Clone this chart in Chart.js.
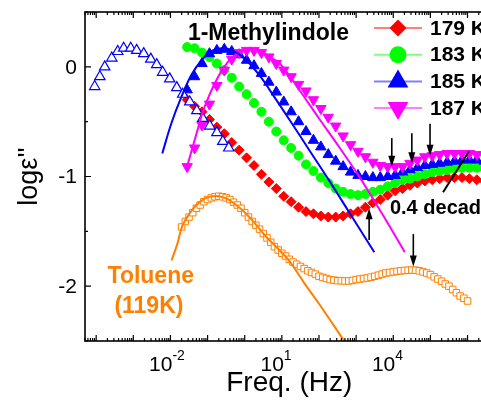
<!DOCTYPE html>
<html>
<head>
<meta charset="utf-8">
<script src="https://cdn.jsdelivr.net/npm/chart.js@4.4.0/dist/chart.umd.min.js"></script>
<style>
  html, body { margin: 0; padding: 0; background: #fff; overflow: hidden; }
  #wrap { width: 520px; height: 404px; }
</style>
</head>
<body>
<div id="wrap"><canvas id="dielChart" width="520" height="404"></canvas></div>
<script>
'use strict';

// ===== DATA: x = log10(f / Hz), y = log10(eps'') =====
// 1-Methylindole, common frequency grid
const freqMI = [-1.55, -1.35, -1.15, -0.95, -0.75, -0.55, -0.35, -0.15, 0.05, 0.25, 0.45, 0.65, 0.85, 1.05,
    1.25, 1.45, 1.65, 1.85, 2.05, 2.25, 2.45, 2.65, 2.85, 3.05, 3.25, 3.45, 3.65, 3.85, 4.05, 4.25, 4.45,
    4.65, 4.85, 5.05, 5.25, 5.45, 5.65, 5.85, 6.05, 6.25, 6.45];
const eps179 = [-0.30, -0.36, -0.41, -0.48, -0.55, -0.61, -0.69, -0.76, -0.83, -0.90, -0.98, -1.05, -1.11, -1.18,
    -1.23, -1.28, -1.32, -1.34, -1.36, -1.37, -1.37, -1.36, -1.34, -1.32, -1.28, -1.24, -1.21, -1.17, -1.13, -1.11, -1.08,
    -1.06, -1.04, -1.03, -1.02, -1.01, -1.01, -1.01, -1.02, -1.03, -1.04];
const eps183 = [0.18, 0.17, 0.13, 0.09, 0.03, -0.03, -0.10, -0.18, -0.25, -0.33, -0.41, -0.50, -0.59, -0.67,
    -0.74, -0.81, -0.89, -0.95, -1.01, -1.06, -1.11, -1.14, -1.16, -1.17, -1.16, -1.14, -1.12, -1.09, -1.06, -1.03, -1.02,
    -1.00, -0.98, -0.96, -0.95, -0.94, -0.93, -0.92, -0.92, -0.92, -0.92];
const eps185 = [-0.21, -0.09, 0.03, 0.12, 0.15, 0.16, 0.14, 0.11, 0.06, 0.01, -0.06, -0.14, -0.23, -0.32,
    -0.41, -0.50, -0.59, -0.67, -0.73, -0.80, -0.86, -0.91, -0.96, -0.99, -1.00, -1.01, -1.01, -1.00, -0.99, -0.96, -0.94,
    -0.92, -0.90, -0.89, -0.88, -0.87, -0.86, -0.85, -0.85, -0.85, -0.86];
const eps187 = [-0.91, -0.74, -0.53, -0.34, -0.17, -0.03, 0.07, 0.13, 0.15, 0.15, 0.13, 0.09, 0.03, -0.03,
    -0.09, -0.16, -0.22, -0.30, -0.38, -0.46, -0.54, -0.63, -0.71, -0.77, -0.82, -0.87, -0.90, -0.91, -0.91, -0.91, -0.88,
    -0.85, -0.82, -0.81, -0.80, -0.79, -0.79, -0.79, -0.79, -0.80, -0.81];

// lower temperature run, open triangles (no legend entry)
const freqOpen = [-4.04, -3.90, -3.77, -3.58, -3.42, -3.26, -3.07, -2.91, -2.72, -2.53, -2.37, -2.21, -2.02,
    -1.83, -1.67, -1.48, -1.29, -1.13, -0.94, -0.75, -0.59, -0.43];
const epsOpen = [-0.18, -0.09, 0.00, 0.08, 0.14, 0.17, 0.17, 0.15, 0.12, 0.07, 0.02, -0.05, -0.11,
    -0.19, -0.25, -0.32, -0.40, -0.47, -0.54, -0.60, -0.68, -0.74];

// Toluene 119 K
const freqTol = [-1.7, -1.6, -1.5, -1.4, -1.3, -1.2, -1.1, -1.0, -0.9, -0.8, -0.7, -0.6, -0.5, -0.4, -0.3, -0.2, -0.1,
    0.0, 0.1, 0.2, 0.3, 0.4, 0.5, 0.6, 0.7, 0.8, 0.9, 1.0, 1.1, 1.2, 1.3, 1.4, 1.5, 1.6, 1.7, 1.8, 1.9,
    2.0, 2.1, 2.2, 2.3, 2.4, 2.5, 2.6, 2.7, 2.8, 2.9, 3.0, 3.1, 3.2, 3.3, 3.4, 3.5, 3.6, 3.7, 3.8, 3.9,
    4.0, 4.1, 4.2, 4.3, 4.4, 4.5, 4.6, 4.7, 4.8, 4.9, 5.0, 5.1, 5.2, 5.3, 5.4, 5.5, 5.6, 5.7, 5.8, 5.9, 6.0];
const epsTol = [-1.46, -1.41, -1.37, -1.33, -1.29, -1.26, -1.23, -1.21, -1.195, -1.185, -1.18, -1.185, -1.195, -1.21,
    -1.235, -1.26, -1.29, -1.33, -1.37, -1.41, -1.445, -1.48, -1.52, -1.56, -1.60, -1.64, -1.67, -1.70, -1.725, -1.755,
    -1.78, -1.80, -1.82, -1.84, -1.86, -1.875, -1.89, -1.91, -1.92, -1.93, -1.94, -1.945, -1.95, -1.95, -1.953, -1.952,
    -1.948, -1.94, -1.935, -1.93, -1.925, -1.918, -1.91, -1.90, -1.89, -1.88, -1.875, -1.87, -1.865, -1.86, -1.857,
    -1.855, -1.853, -1.855, -1.86, -1.87, -1.88, -1.895, -1.915, -1.935, -1.955, -1.98, -2.00, -2.03, -2.06, -2.09,
    -2.11, -2.135];

// fit curves
const freqFit185 = [-2.22, -1.97, -1.70, -1.43, -1.16, -0.89, -0.62, -0.36, -0.09, 0.18, 0.45, 0.67, 1.20, 1.74, 2.28, 2.82, 3.49];
const epsFit185 = [-0.79, -0.51, -0.27, -0.07, 0.06, 0.145, 0.17, 0.155, 0.10, 0.01, -0.10, -0.21, -0.48, -0.76, -1.04, -1.33, -1.69];
const freqFit187 = [-1.54, -1.41, -1.27, -1.14, -0.95, -0.76, -0.57, -0.36, -0.14, 0.07, 0.29, 0.51, 0.72, 0.95, 1.49, 2.02, 2.56, 3.10, 3.70, 4.31];
const epsFit187 = [-0.895, -0.74, -0.575, -0.42, -0.255, -0.12, -0.01, 0.08, 0.135, 0.16, 0.16, 0.13, 0.08, 0.03, -0.22, -0.48, -0.74, -1.01, -1.34, -1.69];
const freqFitTol = [-1.97, -1.81, -1.68, -1.49, -1.30, -1.09, -0.87, -0.69, -0.47, -0.23, 0.01, 0.28, 0.55, 0.87, 1.20, 1.60, 2.00, 2.40, 2.80];
const epsFitTol = [-1.765, -1.61, -1.45, -1.34, -1.26, -1.205, -1.18, -1.18, -1.205, -1.26, -1.33, -1.43, -1.54, -1.65, -1.77, -1.97, -2.16, -2.36, -2.56];

const legendLabels = ['179 K', '183 K', '185 K', '187 K'];
const xTickExps = [-2, 1, 4];
const yTickVals = [-2, -1, 0];
const X_MIN = Math.log10(5e-5), X_MAX = Math.log10(5e6);
const Y_MIN = -2.5, Y_MAX = 0.5;

// ===== HELPERS =====
const FAM = 'Arial, "Liberation Sans", sans-serif';
const ORANGE = '#FF8000';
const pts = (xs, ys) => xs.map((x, i) => ({ x, y: ys[i] }));

function marker(ctx, style, cx, cy, r, flip) {
    ctx.beginPath();
    if (style === 'circle') {
        ctx.arc(cx, cy, r, 0, Math.PI * 2);
    } else if (style === 'rectRot') {
        ctx.moveTo(cx, cy - r); ctx.lineTo(cx + r, cy); ctx.lineTo(cx, cy + r); ctx.lineTo(cx - r, cy);
        ctx.closePath();
    } else {
        const s = flip ? -1 : 1;
        ctx.moveTo(cx, cy - s * r);
        ctx.lineTo(cx + r * 0.866, cy + s * r / 2);
        ctx.lineTo(cx - r * 0.866, cy + s * r / 2);
        ctx.closePath();
    }
    ctx.fill();
}

function arrow(ctx, px, yTail, yTip) {
    const dir = Math.sign(yTip - yTail);
    ctx.beginPath(); ctx.moveTo(px, yTail); ctx.lineTo(px, yTip - dir * 8); ctx.stroke();
    ctx.beginPath();
    ctx.moveTo(px, yTip); ctx.lineTo(px - 3.5, yTip - dir * 11); ctx.lineTo(px + 3.5, yTip - dir * 11);
    ctx.closePath(); ctx.fill();
}

// ===== FRAME, TICKS, LABELS, LEGEND, ANNOTATIONS =====
const decor = {
    id: 'decor',
    afterDatasetsDraw(chart) {
        const { ctx, chartArea: a, scales: { x, y } } = chart;
        ctx.save();
        ctx.strokeStyle = '#000'; ctx.fillStyle = '#000';

        // frame
        ctx.lineWidth = 1.6;
        ctx.strokeRect(a.left, a.top, a.right - a.left, a.bottom - a.top);

        // inward ticks
        ctx.lineWidth = 1.2;
        ctx.beginPath();
        for (let d = Math.floor(X_MIN); d <= Math.ceil(X_MAX); d++) {
            for (let m = 1; m <= 9; m++) {
                const v = d + Math.log10(m);
                if (v < X_MIN || v > X_MAX) continue;
                const px = x.getPixelForValue(v), len = m === 1 ? 6 : 3;
                ctx.moveTo(px, a.bottom); ctx.lineTo(px, a.bottom - len);
                ctx.moveTo(px, a.top); ctx.lineTo(px, a.top + len);
            }
        }
        for (let v = Y_MIN; v <= Y_MAX; v += 0.5) {
            const py = y.getPixelForValue(v), len = Number.isInteger(v) ? 6 : 3;
            ctx.moveTo(a.left, py); ctx.lineTo(a.left + len, py);
            ctx.moveTo(a.right, py); ctx.lineTo(a.right - len, py);
        }
        ctx.stroke();

        // y tick labels
        ctx.font = '21px ' + FAM; ctx.textAlign = 'right'; ctx.textBaseline = 'middle';
        yTickVals.forEach(v => ctx.fillText(String(v), a.left - 8, y.getPixelForValue(v) + 1));

        // x tick labels 10^n
        ctx.textBaseline = 'alphabetic';
        xTickExps.forEach(e => {
            const px = x.getPixelForValue(e);
            ctx.font = '21px ' + FAM; ctx.textAlign = 'right';
            ctx.fillText('10', px + 2, a.bottom + 30);
            ctx.font = '14px ' + FAM; ctx.textAlign = 'left';
            ctx.fillText(String(e), px + 2, a.bottom + 19);
        });

        // axis titles
        ctx.font = '28px ' + FAM; ctx.textAlign = 'center'; ctx.textBaseline = 'middle';
        ctx.fillText('Freq. (Hz)', (a.left + a.right) / 2, a.bottom + 42);
        ctx.font = '27px ' + FAM;
        ctx.save();
        ctx.translate(30, (a.top + a.bottom) / 2);
        ctx.rotate(-Math.PI / 2);
        ctx.fillText("log\u03B5''", 0, 0);
        ctx.restore();

        // arrows and the 0.4 decade bar
        ctx.lineWidth = 1.6;
        [[3.96, -0.65, -0.91], [4.50, -0.605, -0.88], [4.99, -0.52, -0.81], [3.35, -1.58, -1.29], [4.54, -1.525, -1.82]]
            .forEach(([f, e0, e1]) => arrow(ctx, x.getPixelForValue(f), y.getPixelForValue(e0), y.getPixelForValue(e1)));
        ctx.lineWidth = 2;
        ctx.beginPath();
        ctx.moveTo(x.getPixelForValue(5.34), y.getPixelForValue(-1.144));
        ctx.lineTo(x.getPixelForValue(6.04), y.getPixelForValue(-0.77));
        ctx.stroke();

        // texts
        ctx.textAlign = 'left';
        ctx.font = 'bold 20px ' + FAM;
        ctx.fillText('0.4 decade', x.getPixelForValue(3.91), y.getPixelForValue(-1.29));
        ctx.font = 'bold 23px ' + FAM;
        ctx.fillText('1-Methylindole', x.getPixelForValue(-1.53), y.getPixelForValue(0.307));
        ctx.fillStyle = ORANGE; ctx.textAlign = 'center';
        ctx.fillText('Toluene', x.getPixelForValue(-2.53), y.getPixelForValue(-1.917));
        ctx.fillText('(119K)', x.getPixelForValue(-2.58), y.getPixelForValue(-2.19));

        // legend: line + big symbol + label
        const sets = chart.data.datasets.filter(ds => legendLabels.includes(ds.label));
        sets.forEach(ds => {
            const row = legendLabels.indexOf(ds.label);
            const ly = a.top + 16 + row * 26.7;
            ctx.strokeStyle = ds.legendLine; ctx.lineWidth = 2;
            ctx.beginPath(); ctx.moveTo(a.left + 289, ly); ctx.lineTo(a.left + 337, ly); ctx.stroke();
            ctx.fillStyle = ds.pointBackgroundColor;
            const r = ds.pointStyle === 'triangle' ? 12 : 8.5;
            marker(ctx, ds.pointStyle, a.left + 313, ly, r, ds.pointRotation === 180);
            ctx.fillStyle = '#000'; ctx.textAlign = 'left'; ctx.font = 'bold 21px ' + FAM;
            ctx.fillText(ds.label, a.left + 345, ly + 1);
        });
        ctx.restore();
    }
};

// ===== CHART =====
new Chart(document.getElementById('dielChart'), {
    type: 'scatter',
    data: {
        datasets: [
            { label: 'fit185', data: pts(freqFit185, epsFit185), showLine: true, borderColor: '#0000FF', borderWidth: 2,
              pointRadius: 0, tension: 0.4, order: 0 },
            { label: 'fit187', data: pts(freqFit187, epsFit187), showLine: true, borderColor: '#FF00FF', borderWidth: 2,
              pointRadius: 0, tension: 0.4, order: 0 },
            { label: 'fitTol', data: pts(freqFitTol, epsFitTol), showLine: true, borderColor: ORANGE, borderWidth: 2,
              pointRadius: 0, tension: 0.4, order: 0 },
            { label: 'open', data: pts(freqOpen, epsOpen), pointStyle: 'triangle', pointRadius: 6,
              pointBackgroundColor: '#fff', pointBorderColor: '#0000FF', pointBorderWidth: 1.2, order: 1 },
            { label: legendLabels[3], data: pts(freqMI, eps187), pointStyle: 'triangle', pointRotation: 180, pointRadius: 6,
              pointBackgroundColor: '#FF00FF', pointBorderColor: '#FF00FF', pointBorderWidth: 1, legendLine: 'rgba(255,0,255,0.5)', order: 2 },
            { label: legendLabels[2], data: pts(freqMI, eps185), pointStyle: 'triangle', pointRadius: 6,
              pointBackgroundColor: '#0000FF', pointBorderColor: '#0000FF', pointBorderWidth: 1, legendLine: 'rgba(0,0,255,0.5)', order: 3 },
            { label: legendLabels[1], data: pts(freqMI, eps183), pointStyle: 'circle', pointRadius: 4.5,
              pointBackgroundColor: '#00FF00', pointBorderColor: '#00FF00', pointBorderWidth: 1, legendLine: 'rgba(0,255,0,0.5)', order: 4 },
            { label: legendLabels[0], data: pts(freqMI, eps179), pointStyle: 'rectRot', pointRadius: 5,
              pointBackgroundColor: '#FF0000', pointBorderColor: '#FF0000', pointBorderWidth: 1, legendLine: 'rgba(255,0,0,0.5)', order: 5 },
            { label: 'Toluene', data: pts(freqTol, epsTol), pointStyle: 'rect', pointRadius: 4.6,
              pointBackgroundColor: '#fff', pointBorderColor: ORANGE, pointBorderWidth: 1, order: 6 },
        ]
    },
    options: {
        responsive: false, animation: false, events: [],
        layout: { padding: { top: 12, right: 26.5, left: 0, bottom: 0 } },
        plugins: { legend: { display: false }, tooltip: { enabled: false } },
        scales: {
            x: {
                type: 'linear', min: X_MIN, max: X_MAX,
                grid: { display: false, drawTicks: false }, border: { display: false },
                ticks: { display: false },
                afterFit: s => { s.height = 63; }
            },
            y: {
                min: Y_MIN, max: Y_MAX,
                grid: { display: false, drawTicks: false }, border: { display: false },
                ticks: { display: false },
                afterFit: s => { s.width = 85; }
            }
        }
    },
    plugins: [decor]
});
</script>
</body>
</html>
